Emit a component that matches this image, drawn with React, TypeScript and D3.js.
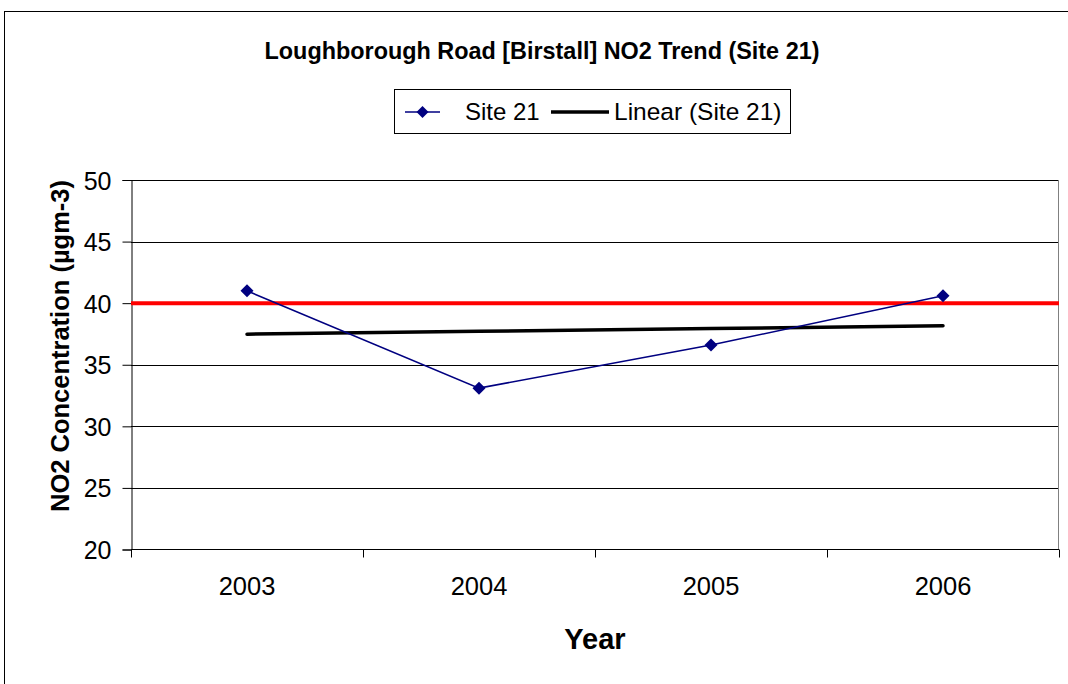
import { useEffect, useRef } from 'react';
import * as d3 from 'd3';

const years = ['2003', '2004', '2005', '2006'];
const site21 = [41.0, 33.1, 36.6, 40.6];
const yTicks = [20, 25, 30, 35, 40, 45, 50];
const objective = 40;

const W = 1068;
const H = 684;
const FONT = 'Arial, "Liberation Sans", sans-serif';

const diamond = (cx: number, cy: number, r: number) =>
  `M${cx},${cy - r}L${cx + r},${cy}L${cx},${cy + r}L${cx - r},${cy}Z`;

const App = () => {
  const svgRef = useRef<SVGSVGElement>(null);

  useEffect(() => {
    if (!svgRef.current) return;
    const svg = d3.select(svgRef.current);
    svg.selectAll('*').remove();

    const plot = { left: 131, right: 1059, top: 180, bottom: 549.5 };

    // outer chart border
    svg.append('rect')
      .attr('x', 4.5).attr('y', 11.5)
      .attr('width', W + 10).attr('height', H + 10)
      .attr('fill', '#fff').attr('stroke', '#000').attr('stroke-width', 1);

    const x = d3.scaleBand()
      .domain(years)
      .range([plot.left, plot.right])
      .padding(0);
    const xc = (d: string) => (x(d) || 0) + x.bandwidth() / 2;

    const y = d3.scaleLinear().domain([20, 50]).range([plot.bottom, plot.top]);

    // gridlines
    svg.append('g')
      .selectAll('line')
      .data(yTicks.filter(t => t > 20))
      .join('line')
      .attr('x1', plot.left).attr('x2', plot.right)
      .attr('y1', d => Math.round(y(d)) + 0.5).attr('y2', d => Math.round(y(d)) + 0.5)
      .attr('stroke', '#000').attr('stroke-width', 1);

    // plot right border
    svg.append('line')
      .attr('x1', plot.right - 0.5).attr('x2', plot.right - 0.5)
      .attr('y1', plot.top).attr('y2', plot.bottom)
      .attr('stroke', '#808080').attr('stroke-width', 1);

    // y axis
    const yAxis = svg.append('g')
      .attr('transform', `translate(${plot.left + 0.5},0)`)
      .call(d3.axisLeft(y).tickValues(yTicks).tickSize(9).tickPadding(11) as any);
    yAxis.select('.domain').attr('stroke', '#000');
    yAxis.selectAll('.tick line').attr('stroke', '#000');
    yAxis.selectAll('.tick text')
      .attr('fill', '#000')
      .attr('dy', '0.36em')
      .style('font-family', FONT)
      .style('font-size', '25px');

    // x axis
    const xAxisY = Math.round(plot.bottom) - 0.5;
    svg.append('line')
      .attr('x1', plot.left).attr('x2', plot.right)
      .attr('y1', xAxisY).attr('y2', xAxisY)
      .attr('stroke', '#000');
    const bounds = years.map(d => x(d) || 0).concat([plot.right]);
    svg.append('g')
      .selectAll('line')
      .data(bounds)
      .join('line')
      .attr('x1', d => Math.round(d) + 0.5).attr('x2', d => Math.round(d) + 0.5)
      .attr('y1', xAxisY).attr('y2', xAxisY + 8)
      .attr('stroke', '#000');
    svg.append('g')
      .selectAll('text')
      .data(years)
      .join('text')
      .attr('x', d => xc(d))
      .attr('y', 595)
      .attr('text-anchor', 'middle')
      .style('font-family', FONT)
      .style('font-size', '25.5px')
      .text(d => d);

    // objective line
    svg.append('line')
      .attr('x1', plot.left).attr('x2', plot.right)
      .attr('y1', y(objective)).attr('y2', y(objective))
      .attr('stroke', '#ff0000').attr('stroke-width', 4);

    // linear trend
    const xs = years.map((_, i) => i + 1);
    const mx = d3.mean(xs) || 0;
    const my = d3.mean(site21) || 0;
    const slope = d3.sum(xs, (v, i) => (v - mx) * (site21[i] - my)) /
      d3.sum(xs, v => (v - mx) * (v - mx));
    const trend = xs.map(v => my + slope * (v - mx));
    const line = d3.line<number>()
      .x((_, i) => xc(years[i]))
      .y(d => y(d));
    svg.append('path')
      .datum(trend)
      .attr('d', line)
      .attr('fill', 'none')
      .attr('stroke', '#000')
      .attr('stroke-width', 3.5)
      .attr('stroke-linecap', 'round');

    // data series
    svg.append('path')
      .datum(site21)
      .attr('d', line)
      .attr('fill', 'none')
      .attr('stroke', '#000080')
      .attr('stroke-width', 1.6);
    svg.append('g')
      .selectAll('path')
      .data(site21)
      .join('path')
      .attr('d', (d, i) => diamond(xc(years[i]), y(d), 6.5))
      .attr('fill', '#000080');

    // title
    svg.append('text')
      .attr('x', 542)
      .attr('y', 59)
      .attr('text-anchor', 'middle')
      .style('font-family', FONT)
      .style('font-size', '23.4px')
      .style('font-weight', 'bold')
      .text('Loughborough Road [Birstall] NO2 Trend (Site 21)');

    // legend
    const lg = svg.append('g');
    lg.append('rect')
      .attr('x', 394.5).attr('y', 89.5)
      .attr('width', 396).attr('height', 44)
      .attr('fill', '#fff').attr('stroke', '#000');
    lg.append('line')
      .attr('x1', 405).attr('x2', 440).attr('y1', 112).attr('y2', 112)
      .attr('stroke', '#000080').attr('stroke-width', 1.6);
    lg.append('path').attr('d', diamond(422.5, 112, 6)).attr('fill', '#000080');
    lg.append('text')
      .attr('x', 465).attr('y', 120)
      .style('font-family', FONT).style('font-size', '24px')
      .text('Site 21');
    lg.append('line')
      .attr('x1', 551).attr('x2', 609).attr('y1', 112).attr('y2', 112)
      .attr('stroke', '#000').attr('stroke-width', 3.5);
    lg.append('text')
      .attr('x', 614).attr('y', 120)
      .style('font-family', FONT).style('font-size', '24.5px')
      .text('Linear (Site 21)');

    // axis titles
    svg.append('text')
      .attr('transform', 'translate(69,346) rotate(-90)')
      .attr('text-anchor', 'middle')
      .style('font-family', FONT)
      .style('font-size', '25.5px')
      .style('font-weight', 'bold')
      .text('NO2 Concentration (µgm-3)');
    svg.append('text')
      .attr('x', 595)
      .attr('y', 649)
      .attr('text-anchor', 'middle')
      .style('font-family', FONT)
      .style('font-size', '29px')
      .style('font-weight', 'bold')
      .text('Year');
  }, []);

  return (
    <svg
      ref={svgRef}
      width={W}
      height={H}
      style={{ position: 'absolute', left: 0, top: 0, background: '#fff' }}
    />
  );
};

export default App;
